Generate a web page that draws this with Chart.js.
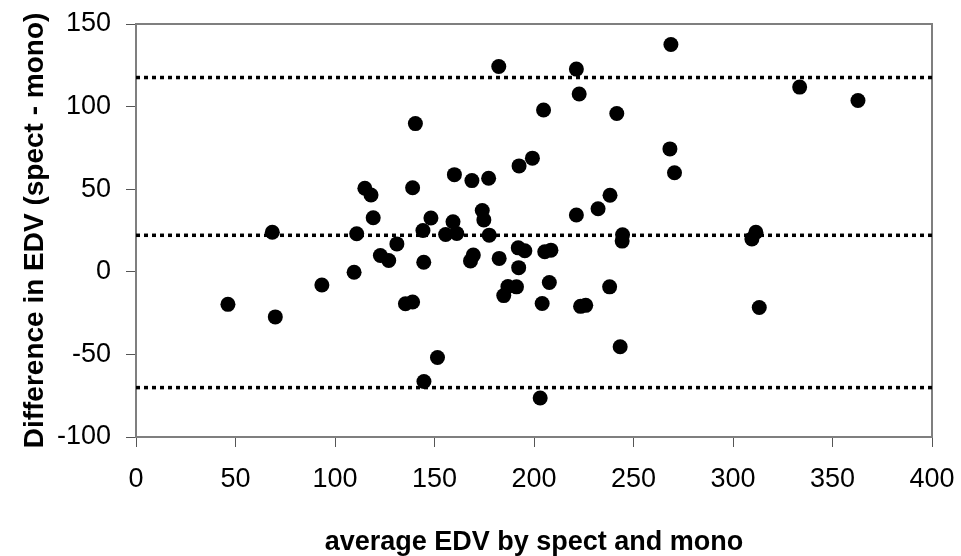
<!DOCTYPE html>
<html>
<head>
<meta charset="utf-8">
<script src="https://cdn.jsdelivr.net/npm/chart.js@4/dist/chart.umd.min.js"></script>
<style>
  html, body { margin: 0; padding: 0; background: #ffffff; }
  #wrap { width: 961px; height: 556px; }
</style>
</head>
<body>
<div id="wrap"><canvas id="chart" width="961" height="556"></canvas></div>
<script>
// Bland-Altman plot: mean EDV of the two methods vs. their difference
const avgEDV = [
  182.3, 204.8, 140.4, 199.2, 192.5, 115.0, 118.1, 139.0, 160.0, 168.8,
  177.2, 119.2, 68.5, 110.9, 148.2, 144.2, 159.3, 155.6, 161.2, 174.0,
  174.8, 177.5, 131.1, 268.8, 221.3, 222.7, 241.6, 333.5, 362.8, 268.3,
  270.6, 238.2, 232.2, 221.3, 244.5, 244.3, 311.5, 309.5, 46.2, 70.0,
  93.4, 109.6, 122.8, 127.0, 144.6, 135.4, 139.0, 151.5, 144.7, 169.5,
  168.1, 182.5, 192.1, 195.4, 192.3, 186.9, 191.2, 184.8, 203.1, 205.4,
  208.5, 207.7, 204.1, 238.0, 223.4, 226.0, 243.3, 313.2
];
const diffEDV = [
  124.3, 97.9, 89.7, 68.8, 64.1, 50.6, 46.5, 50.9, 58.8, 55.2,
  56.6, 32.7, 23.9, 23.0, 32.6, 25.0, 30.3, 22.6, 23.2, 37.1,
  31.4, 22.2, 16.9, 137.6, 122.7, 107.6, 95.8, 111.8, 103.7, 74.4,
  60.0, 46.3, 38.2, 34.4, 22.4, 18.6, 23.9, 19.9, -19.7, -27.3,
  -8.0, -0.3, 9.9, 6.8, 5.8, -19.3, -18.3, -51.9, -66.4, 10.1,
  6.6, 8.1, 14.5, 12.7, 2.5, -8.9, -9.1, -14.4, -76.4, 12.1,
  13.1, -6.5, -19.2, -9.1, -20.9, -20.3, -45.4, -21.6
];
// upper limit of agreement, mean difference, lower limit of agreement
const limitValues = [117.6, 22.1, -70.1];
const xRange = [0, 400];
const yRange = [-100, 150];
const tickStep = 50;

const xTitle = 'average EDV by spect and mono';
const yTitle = 'Difference in EDV (spect - mono)';

const FONT = "'Liberation Sans', Arial, sans-serif";
const AXIS_GREY = '#7f7f7f';

const points = avgEDV.map((x, i) => ({ x: x, y: diffEDV[i] }));

const limitSets = limitValues.map(v => ({
  type: 'line',
  data: xRange.map(x => ({ x: x, y: v })),
  borderColor: '#000000',
  borderWidth: 3.5,
  borderDash: [4, 4],
  borderCapStyle: 'butt',
  pointRadius: 0,
  fill: false,
  tension: 0
}));

// outline of the plot area (top and right edges included)
const frame = {
  id: 'frame',
  beforeDatasetsDraw(chart) {
    const a = chart.chartArea;
    const ctx = chart.ctx;
    ctx.save();
    ctx.strokeStyle = AXIS_GREY;
    ctx.lineWidth = 2;
    ctx.strokeRect(a.left, a.top, a.right - a.left, a.bottom - a.top);
    ctx.restore();
  }
};

new Chart(document.getElementById('chart'), {
  type: 'scatter',
  data: {
    datasets: [
      {
        data: points,
        pointRadius: 7.5,
        pointBackgroundColor: '#000000',
        pointBorderWidth: 0,
        showLine: false
      },
      ...limitSets
    ]
  },
  options: {
    responsive: false,
    devicePixelRatio: 1,
    animation: false,
    events: [],
    layout: { padding: { top: 24, right: 29, left: 0, bottom: 0 } },
    plugins: { legend: { display: false }, tooltip: { enabled: false } },
    scales: {
      x: {
        type: 'linear',
        min: xRange[0],
        max: xRange[1],
        afterFit: s => { s.height = 119; s.paddingLeft = 0; s.paddingRight = 0; },
        ticks: {
          stepSize: tickStep,
          autoSkip: false,
          maxRotation: 0,
          padding: 16,
          color: '#000000',
          font: { family: FONT, size: 27 }
        },
        grid: {
          drawOnChartArea: false,
          drawTicks: true,
          tickLength: 10,
          tickColor: '#555555',
          tickWidth: 1
        },
        border: { display: true, color: AXIS_GREY, width: 2 },
        title: {
          display: true,
          text: xTitle,
          color: '#000000',
          font: { family: FONT, size: 27, weight: 'bold', lineHeight: 1 },
          padding: { top: 0, bottom: 0 }
        }
      },
      y: {
        type: 'linear',
        min: yRange[0],
        max: yRange[1],
        afterFit: s => { s.width = 136; s.paddingTop = 0; s.paddingBottom = 0; },
        ticks: {
          stepSize: tickStep,
          autoSkip: false,
          padding: 15,
          color: '#000000',
          font: { family: FONT, size: 27 }
        },
        grid: {
          drawOnChartArea: false,
          drawTicks: true,
          tickLength: 10,
          tickColor: '#555555',
          tickWidth: 1
        },
        border: { display: true, color: AXIS_GREY, width: 2 },
        title: {
          display: true,
          text: yTitle,
          color: '#000000',
          font: { family: FONT, size: 28, weight: 'bold', lineHeight: 1 },
          padding: { top: 21, bottom: 0 }
        }
      }
    }
  },
  plugins: [frame]
});
</script>
</body>
</html>
